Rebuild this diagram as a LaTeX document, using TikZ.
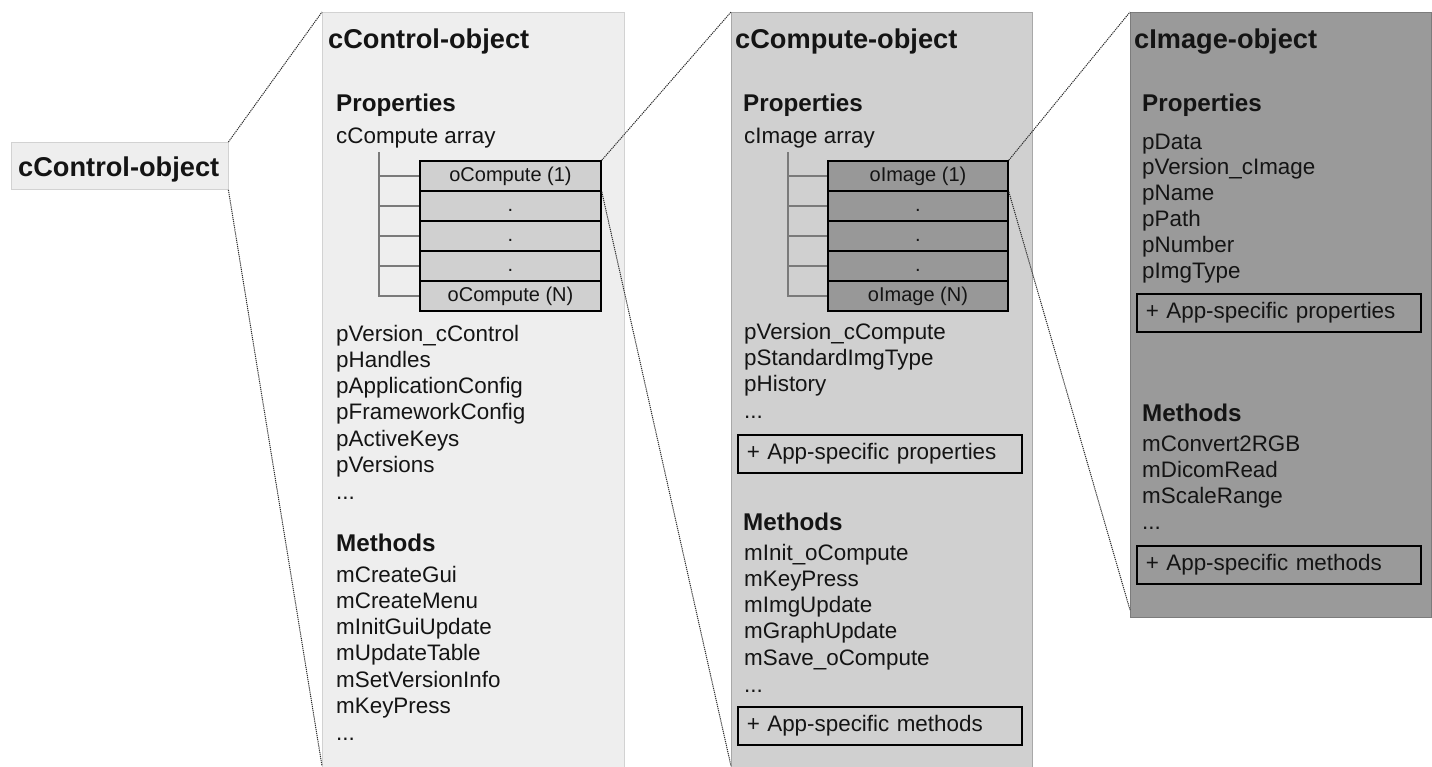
\documentclass[tikz,border=0pt]{standalone}
\usepackage{fontspec}
\setmainfont{Liberation Sans}
\definecolor{panA}{HTML}{EEEEEE}
\definecolor{panAb}{HTML}{D2D2D2}
\definecolor{panB}{HTML}{D0D0D0}
\definecolor{panBb}{HTML}{A8A8A8}
\definecolor{panC}{HTML}{9A9A9A}
\definecolor{panCb}{HTML}{7C7C7C}
\definecolor{rowA}{HTML}{D0D0D0}
\definecolor{rowB}{HTML}{989898}
\definecolor{ink}{HTML}{141414}
\definecolor{treec}{HTML}{7A7A7A}
\definecolor{dotc}{HTML}{2A2A2A}
\begin{document}
\begin{tikzpicture}[x=1pt,y=-1pt,
  panel/.style={draw, line width=0.9pt, anchor=north west, inner sep=0pt, minimum width=#1},
  ttl/.style={anchor=base west, inner sep=0pt, text=ink, font=\bfseries\fontsize{27.2}{32}\selectfont},
  hd/.style={anchor=base west, inner sep=0pt, text=ink, font=\bfseries\fontsize{24.2}{28}\selectfont},
  txt/.style={anchor=base west, inner sep=0pt, text=ink, font=\fontsize{22.4}{26}\selectfont},
  arow/.style={draw=black, line width=1.6pt, inner sep=0pt, minimum height=30pt, text=ink,
               font=\fontsize{20}{24}\selectfont},
  appbox/.style={draw=black, line width=1.6pt, anchor=north west, inner xsep=9pt, inner ysep=0pt,
               text width=266pt, align=left, minimum height=38pt, text=ink,
               font=\fontsize{22.4}{26}\selectfont},
  tree/.style={draw=treec, line width=1.2pt},
  zoomline/.style={draw=dotc, line width=1pt, dash pattern=on 1.2pt off 0.9pt}
]
\useasboundingbox (0,0) rectangle (1432,766);

% ---------- small box ----------
\node[draw=panAb, fill=panA, line width=0.9pt, anchor=north west, inner sep=0pt,
      minimum width=217pt, minimum height=47pt] (ctl) at (10.5,142) {};
\node[ttl] (ctlt) at (18,176) {cControl-object};

% ---------- panels ----------
\node[panel=302pt, draw=panAb, fill=panA, minimum height=780pt] (p1) at (322,12) {};
\node[panel=301pt, draw=panBb, fill=panB, minimum height=780pt] (p2) at (731,12) {};
\node[panel=301pt, draw=panCb, fill=panC, minimum height=605pt] (p3) at (1130,12) {};

% ---------- panel 1 ----------
\node[ttl] (p1t) at (328,48) {cControl-object};
\node[hd] (p1h1) at (336,111) {Properties};
\node[txt] (p1arr) at (336,143) {cCompute array};
\node[arow, fill=rowA, minimum width=181pt] (r11) at (510.5,176) {oCompute (1)};
\node[arow, fill=rowA, minimum width=181pt] (r12) at (510.5,206) {\vphantom{(}.};
\node[arow, fill=rowA, minimum width=181pt] (r13) at (510.5,236) {\vphantom{(}.};
\node[arow, fill=rowA, minimum width=181pt] (r14) at (510.5,266) {\vphantom{(}.};
\node[arow, fill=rowA, minimum width=181pt] (r15) at (510.5,296) {oCompute (N)};
\coordinate (t1) at (379,152);
\draw[tree] (t1) |- (r15.west);
\foreach \r in {r11,r12,r13,r14} \draw[tree] (\r.west) -- (\r.west -| t1);
\foreach \t [count=\i] in {pVersion\_cControl,pHandles,pApplicationConfig,pFrameworkConfig,pActiveKeys,pVersions}
  \node[txt] (p1a\i) at (336,{341+26.3*(\i-1)}) {\t};
\node[txt] (p1a7) at (336,499) {...};
\node[hd] (p1h2) at (336,551) {Methods};
\foreach \t [count=\i] in {mCreateGui,mCreateMenu,mInitGuiUpdate,mUpdateTable,mSetVersionInfo,mKeyPress}
  \node[txt] (p1m\i) at (336,{582+26.3*(\i-1)}) {\t};
\node[txt] (p1m7) at (336,740) {...};

% ---------- panel 2 ----------
\node[ttl] (p2t) at (735,48) {cCompute-object};
\node[hd] (p2h1) at (743,111) {Properties};
\node[txt] (p2arr) at (744,143) {cImage array};
\node[arow, fill=rowB, minimum width=180pt] (s11) at (918,176) {oImage (1)};
\node[arow, fill=rowB, minimum width=180pt] (s12) at (918,206) {\vphantom{(}.};
\node[arow, fill=rowB, minimum width=180pt] (s13) at (918,236) {\vphantom{(}.};
\node[arow, fill=rowB, minimum width=180pt] (s14) at (918,266) {\vphantom{(}.};
\node[arow, fill=rowB, minimum width=180pt] (s15) at (918,296) {oImage (N)};
\coordinate (t2) at (788,152);
\draw[tree] (t2) |- (s15.west);
\foreach \r in {s11,s12,s13,s14} \draw[tree] (\r.west) -- (\r.west -| t2);
\foreach \t [count=\i] in {pVersion\_cCompute,pStandardImgType,pHistory}
  \node[txt] (p2a\i) at (744,{339+26.3*(\i-1)}) {\t};
\node[txt] (p2a4) at (744,418) {...};
\node[appbox] (p2b1) at (737,434) {+ App-specific properties};
\node[hd] (p2h2) at (743,530) {Methods};
\foreach \t [count=\i] in {mInit\_oCompute,mKeyPress,mImgUpdate,mGraphUpdate,mSave\_oCompute}
  \node[txt] (p2m\i) at (744,{560+26.3*(\i-1)}) {\t};
\node[txt] (p2m6) at (744,692) {...};
\node[appbox] (p2b2) at (737,706) {+ App-specific methods};

% ---------- panel 3 ----------
\node[ttl] (p3t) at (1134,48) {cImage-object};
\node[hd] (p3h1) at (1142,111) {Properties};
\foreach \t [count=\i] in {pData,pVersion\_cImage,pName,pPath,pNumber,pImgType}
  \node[txt] (p3a\i) at (1142,{149+25.8*(\i-1)}) {\t};
\node[appbox] (p3b1) at (1136,293) {+ App-specific properties};
\node[hd] (p3h2) at (1142,421) {Methods};
\foreach \t [count=\i] in {mConvert2RGB,mDicomRead,mScaleRange}
  \node[txt] (p3m\i) at (1142,{451+26*(\i-1)}) {\t};
\node[txt] (p3m4) at (1142,529) {...};
\node[appbox] (p3b2) at (1136,545) {+ App-specific methods};

% ---------- zoom connectors ----------
\coordinate (c1b) at (322,766);
\coordinate (c2b) at (731,766);
\coordinate (c3b) at (1130,610);
\draw[zoomline] (ctl.north east) -- (p1.north west);
\draw[zoomline] (ctl.south east) -- (c1b);
\draw[zoomline] (r11.north east) -- (p2.north west);
\draw[zoomline] (r11.south east) -- (c2b);
\draw[zoomline] (s11.north east) -- (p3.north west);
\draw[zoomline] (s11.south east) -- (c3b);
\end{tikzpicture}
\end{document}
